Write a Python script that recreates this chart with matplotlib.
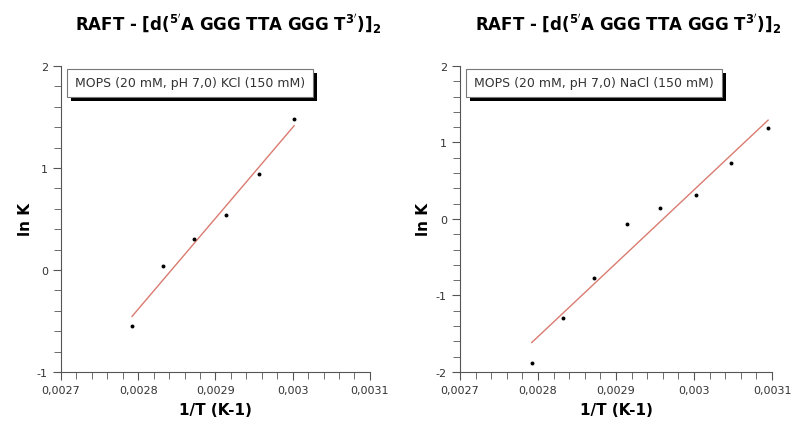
import matplotlib
matplotlib.use("Agg")
import matplotlib.pyplot as plt
import numpy as np
from matplotlib.ticker import MultipleLocator, FuncFormatter
import matplotlib.patheffects as pe

# 1/T values (K-1) and ln K
inv_t_kcl = [0.002792, 0.002832, 0.002872, 0.002914, 0.002957, 0.003002]
lnk_kcl = [-0.546, 0.042, 0.304, 0.542, 0.944, 1.477]

inv_t_nacl = [0.002792, 0.002832, 0.002872, 0.002914, 0.002957, 0.003002, 0.003048, 0.003095]
lnk_nacl = [-1.878, -1.295, -0.772, -0.070, 0.149, 0.311, 0.732, 1.184]

title = r"RAFT - [d($\mathbf{^{5'}}$A GGG TTA GGG T$\mathbf{^{3'}}$)]$\mathbf{_2}$"
buffers = ["MOPS (20 mM, pH 7,0) KCl (150 mM)", "MOPS (20 mM, pH 7,0) NaCl (150 mM)"]
ylims = [(-1, 2), (-2, 2)]

LINE_COLOR = "#d97b70"
TEXT_COLOR = "#333333"

fig = plt.figure(figsize=(7.94, 4.31), dpi=100)
positions = [[0.0768, 0.1346, 0.389, 0.710], [0.5793, 0.1346, 0.393, 0.710]]


def comma_fmt(v, pos):
    s = f"{v:.4f}".rstrip("0").rstrip(".")
    return s.replace(".", ",")


for i, (xs, ys) in enumerate([(inv_t_kcl, lnk_kcl), (inv_t_nacl, lnk_nacl)]):
    ax = fig.add_axes(positions[i])
    ax.scatter(xs, ys, s=8, color="black", marker="o", linewidths=0, zorder=3)

    # linear fit
    slope, icpt = np.polyfit(xs, ys, 1)
    fx = np.array([min(xs), max(xs)])
    ax.plot(fx, slope * fx + icpt, color=LINE_COLOR, lw=1.0, zorder=2)

    ax.set_xlim(0.0027, 0.0031)
    ax.set_ylim(*ylims[i])
    ax.xaxis.set_major_locator(MultipleLocator(0.0001))
    ax.xaxis.set_minor_locator(MultipleLocator(0.00002))
    ax.yaxis.set_major_locator(MultipleLocator(1))
    ax.yaxis.set_minor_locator(MultipleLocator(0.2))
    ax.xaxis.set_major_formatter(FuncFormatter(comma_fmt))
    ax.yaxis.set_major_formatter(FuncFormatter(lambda v, p: f"{v:.0f}"))

    for side in ["top", "right"]:
        ax.spines[side].set_visible(False)
    for side in ["left", "bottom"]:
        ax.spines[side].set_color("#555555")
    ax.tick_params(which="both", direction="out", color="#555555", labelsize=8, labelcolor=TEXT_COLOR)
    ax.tick_params(which="major", length=6)
    ax.tick_params(which="minor", length=5)

    ax.set_xlabel("1/T (K-1)", fontsize=11, fontweight="bold", labelpad=5)
    ax.set_ylabel("ln K", fontsize=11, fontweight="bold", labelpad=3)
    ax.set_title(title, fontsize=12, fontweight="bold", pad=26, x=0.54)

    t = ax.text(0.045, 0.945, buffers[i], transform=ax.transAxes, fontsize=9,
                color=TEXT_COLOR, va="center", ha="left",
                bbox=dict(boxstyle="square,pad=0.62", fc="white", ec="#777777", lw=0.8))
    t.get_bbox_patch().set_path_effects([
        pe.SimplePatchShadow(offset=(3, -3), shadow_rgbFace="black", alpha=1.0),
        pe.Normal()])

fig.savefig("out.png", dpi=100)
